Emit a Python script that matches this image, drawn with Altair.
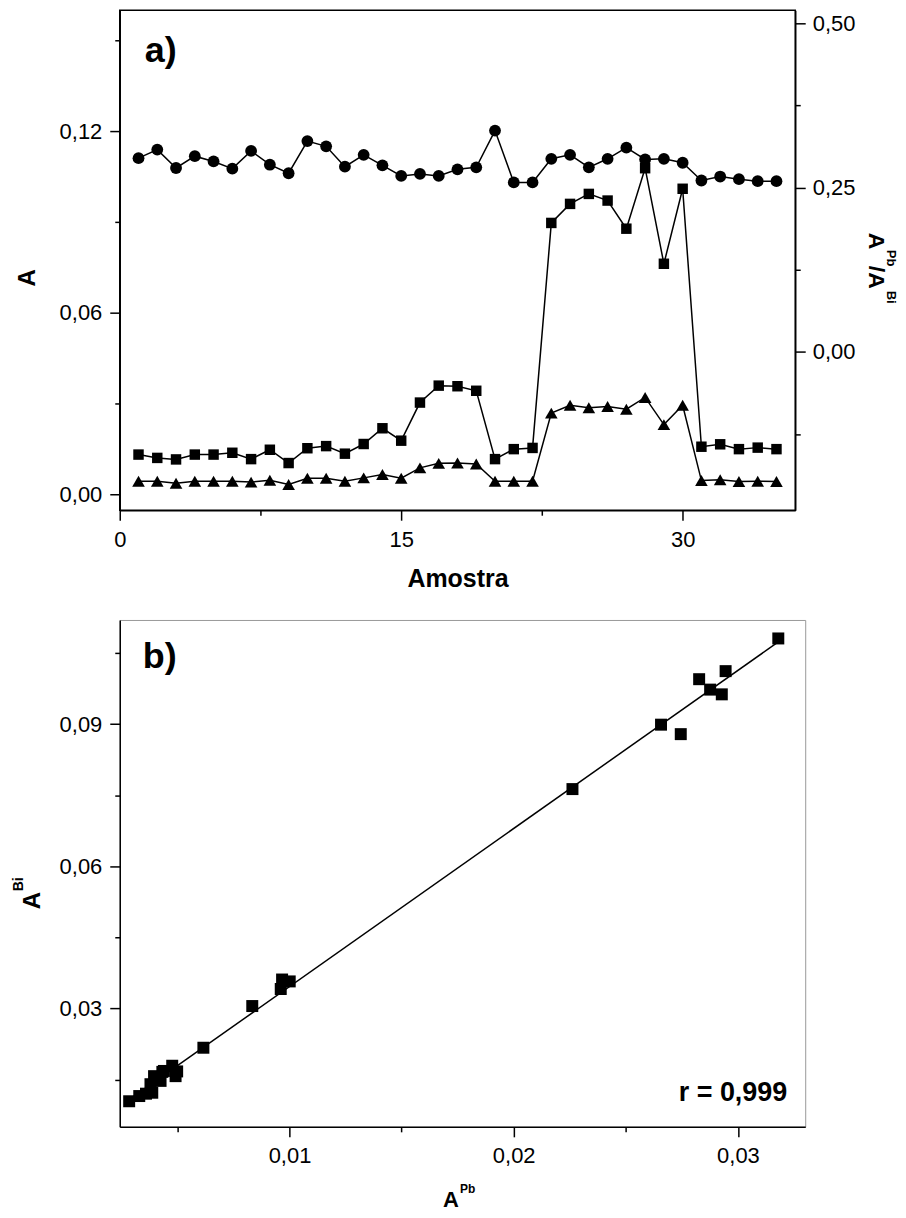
import altair as alt
import pandas as pd

FONT = "Liberation Sans"

# ---------------- data: panel a ----------------
amostra = list(range(1, 36))
a_bi = [0.0131, 0.0120, 0.0115, 0.0131, 0.0131, 0.0137, 0.0116, 0.0147, 0.0103, 0.0152,
        0.0159, 0.0134, 0.0166, 0.0218, 0.0177, 0.0303, 0.0359, 0.0357, 0.0342, 0.0116,
        0.0149, 0.0153, 0.0897, 0.0960, 0.0993, 0.0971, 0.0878, 0.1078, 0.0762, 0.1010,
        0.0157, 0.0165, 0.0149, 0.0154, 0.0149]
a_pb = [0.0043, 0.0043, 0.0036, 0.0043, 0.0043, 0.0043, 0.0040, 0.0046, 0.0032, 0.0053,
        0.0053, 0.0043, 0.0054, 0.0065, 0.0053, 0.0087, 0.0102, 0.0103, 0.0100, 0.0043,
        0.0043, 0.0043, 0.0268, 0.0294, 0.0286, 0.0290, 0.0281, 0.0320, 0.0230, 0.0294,
        0.0045, 0.0048, 0.0042, 0.0043, 0.0042]
razao = [0.295, 0.308, 0.280, 0.298, 0.290, 0.279, 0.306, 0.285, 0.272, 0.321,
         0.313, 0.282, 0.300, 0.284, 0.268, 0.271, 0.268, 0.278, 0.281, 0.337,
         0.258, 0.258, 0.294, 0.300, 0.281, 0.294, 0.311, 0.293, 0.294, 0.288,
         0.261, 0.267, 0.263, 0.260, 0.260]

# ---------------- data: panel b ----------------
b_pb = [0.0318, 0.02945, 0.02827, 0.02876, 0.02928, 0.02657, 0.02745, 0.02262,
        0.00967, 0.01001, 0.00961, 0.00834, 0.00616,
        0.00477, 0.00440, 0.00492, 0.00396, 0.00425, 0.00380, 0.00388, 0.00330,
        0.00285, 0.00360, 0.00499, 0.00433]
b_bi = [0.1081, 0.1012, 0.0995, 0.0973, 0.0963, 0.0899, 0.0879, 0.0763,
        0.0361, 0.0357, 0.0341, 0.0305, 0.0217,
        0.0179, 0.0168, 0.0157, 0.0157, 0.0147, 0.0140, 0.0122, 0.0115,
        0.0104, 0.0120, 0.0167, 0.0166]

one = pd.DataFrame({"k": [0]})


def txt(label, x, y, size, angle=0, align="left", weight="bold"):
    kw = dict(text=label, font=FONT, fontSize=size, fontWeight=weight, color="black",
              align=align, baseline="alphabetic")
    if angle:
        kw["angle"] = angle
    return alt.Chart(one).mark_text(**kw).encode(x=alt.value(x), y=alt.value(y))


def cond_tick(step):
    return {"condition": {"test": f"abs(datum.value/{step} - round(datum.value/{step})) < 0.001",
                          "value": 10}, "value": 5}


def lab_expr(step, fmt):
    return (f"abs(datum.value/{step} - round(datum.value/{step})) < 0.001 ? "
            f"replace(format(datum.value, '{fmt}'), '.', ',') : ''")


AX = dict(labelFont=FONT, labelFontSize=22, labelColor="black", domainColor="black",
          domainWidth=1.5, tickColor="black", tickWidth=1.5, grid=False, title=None,
          labelOverlap=False, labelFlush=False, labelBound=False)

# ---------------- panel a ----------------
W_A, H_A = 677, 501
xa = alt.X("amostra:Q", scale=alt.Scale(domain=[0, 36], nice=False, zero=False),
           axis=alt.Axis(values=[0, 7.5, 15, 22.5, 30], labelExpr=lab_expr(15, ".0f"),
                         tickSize=cond_tick(15), labelPadding=9, **AX))
yl = alt.Y("A:Q", scale=alt.Scale(domain=[-0.0053, 0.160], nice=False, zero=False),
           axis=alt.Axis(orient="left", values=[0, 0.03, 0.06, 0.09, 0.12, 0.15],
                         labelExpr=lab_expr(0.06, ".2f"), tickSize=cond_tick(0.06),
                         labelPadding=8, **AX))
yr = alt.Y("R:Q", scale=alt.Scale(domain=[-0.241, 0.52], nice=False, zero=False),
           axis=alt.Axis(orient="right", values=[-0.125, 0, 0.125, 0.25, 0.375, 0.5],
                         labelExpr=lab_expr(0.25, ".2f"), tickSize=cond_tick(0.25),
                         labelPadding=7, **AX))

df_bi = pd.DataFrame({"amostra": amostra, "A": a_bi})
df_pb = pd.DataFrame({"amostra": amostra, "A": a_pb})
df_r = pd.DataFrame({"amostra": amostra, "R": razao})

bi_line = alt.Chart(df_bi).mark_line(color="black", strokeWidth=1.5).encode(x=xa, y=yl)
bi_pts = alt.Chart(df_bi).mark_point(shape="square", filled=True, color="black", opacity=1,
                                     size=110).encode(x=xa, y=yl)
pb_line = alt.Chart(df_pb).mark_line(color="black", strokeWidth=1.5).encode(x=xa, y=yl)
pb_pts = alt.Chart(df_pb).mark_point(shape="triangle-up", filled=True, color="black",
                                     opacity=1, size=160).encode(x=xa, y=yl)
left = alt.layer(bi_line, pb_line, bi_pts, pb_pts)

r_line = alt.Chart(df_r).mark_line(color="black", strokeWidth=1.5).encode(x=xa, y=yr)
r_pts = alt.Chart(df_r).mark_point(shape="circle", filled=True, color="black", opacity=1,
                                   size=140).encode(x=xa, y=yr)
right = alt.layer(r_line, r_pts)

texts_a = [
    txt("a)", 25, 52, 36),
    txt("A", -85, 268, 24, angle=270, align="center"),
    txt("Amostra", 339, 578, 25, align="center"),
    txt("A", 751, 223, 23, angle=90),
    txt("Pb", 769, 240, 13, angle=90),
    txt("/A", 751, 256, 23, angle=90),
    txt("Bi", 769, 281, 13, angle=90),
]

panel_a = alt.layer(left, right, *texts_a).resolve_scale(y="independent").properties(
    width=W_A, height=H_A,
    view=alt.ViewBackground(stroke="black", strokeWidth=1.5))

# ---------------- panel b ----------------
W_B, H_B = 687, 508
df_b = pd.DataFrame({"pb": b_pb, "bi": b_bi})
xb = alt.X("pb:Q", scale=alt.Scale(domain=[0.00243, 0.0330], nice=False, zero=False),
           axis=alt.Axis(values=[0.005, 0.01, 0.015, 0.02, 0.025, 0.03],
                         labelExpr=lab_expr(0.01, ".2f"), tickSize=cond_tick(0.01),
                         labelPadding=9, **AX))
yb = alt.Y("bi:Q", scale=alt.Scale(domain=[0.005, 0.112], nice=False, zero=False),
           axis=alt.Axis(values=[0.015, 0.03, 0.045, 0.06, 0.075, 0.09, 0.105],
                         labelExpr=lab_expr(0.03, ".2f"), tickSize=cond_tick(0.03),
                         labelPadding=8, **AX))

fit = alt.Chart(df_b).transform_regression("pb", "bi").mark_line(
    color="black", strokeWidth=1.5).encode(x=xb, y=yb)
pts_b = alt.Chart(df_b).mark_point(shape="square", filled=True, color="black", opacity=1,
                                   size=144).encode(x=xb, y=yb)

texts_b = [
    txt("b)", 23, 48, 36),
    txt("r = 0,999", 669, 482, 27, align="right"),
    txt("A", -80, 290, 24, angle=270),
    txt("Bi", -97, 272, 14, angle=270),
    txt("A", 324, 588, 22),
    txt("Pb", 341, 574, 12),
]

panel_b = alt.layer(fit, pts_b, *texts_b).properties(
    width=W_B, height=H_B,
    view=alt.ViewBackground(stroke="#9a9a9a", strokeWidth=1))

chart = alt.vconcat(panel_a, panel_b, spacing=26).properties(
    padding={"left": 3, "top": 0, "right": 0, "bottom": 0},
    background="white",
)

chart.save("out.html", embed_options={"renderer": "svg", "actions": False})
